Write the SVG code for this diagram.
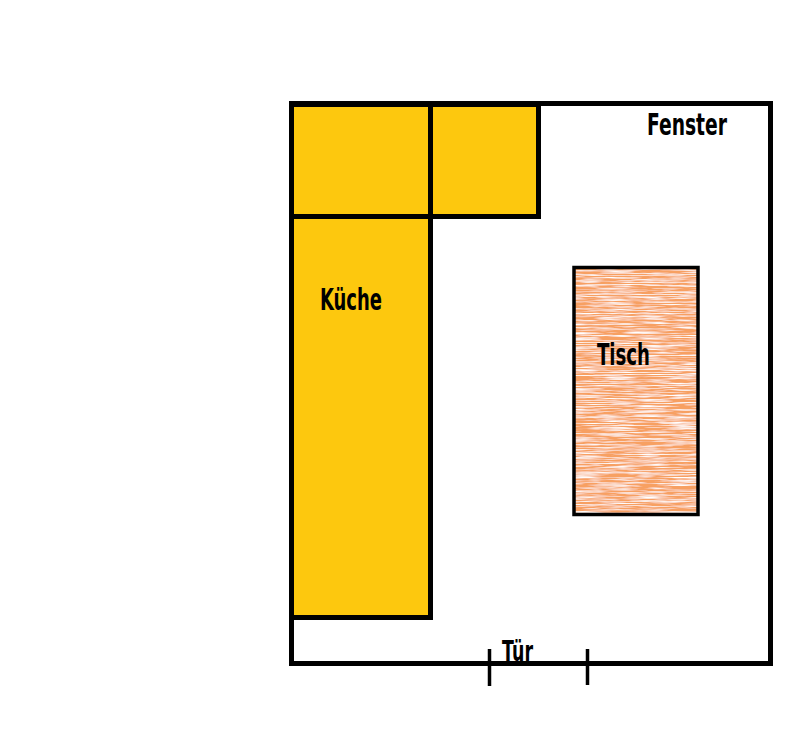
<svg xmlns="http://www.w3.org/2000/svg" width="810" height="736" viewBox="0 0 810 736">
<style>
.wall{fill:none;stroke:#000;stroke-width:5}
.unit{fill:#FDC80E;stroke:#000;stroke-width:5}
.lbl{font-family:"DejaVu Sans Condensed","Liberation Sans",sans-serif;font-weight:bold;fill:#000}
</style>
<defs>
<filter id="grain" x="0" y="0" width="100%" height="100%">
<feTurbulence type="fractalNoise" baseFrequency="0.03 0.9" numOctaves="3" seed="7" result="n"/>
<feColorMatrix in="n" type="matrix" values="0 0 0 0 1  0 0 0 0 1  0 0 0 0 1  0 0 0 2.4 -0.95" result="w"/>
<feComposite in="w" in2="SourceGraphic" operator="atop"/>
</filter>
</defs>
<rect width="810" height="736" fill="#fff"/>
<g id="room">
<rect class="wall" x="291.5" y="103.5" width="479" height="560"/>
</g>
<g id="kueche">
<rect class="unit" x="291.5" y="104.5" width="139" height="112"/>
<rect class="unit" x="430.5" y="104.5" width="108" height="112"/>
<rect class="unit" x="291.5" y="216.5" width="139" height="401"/>
<text class="lbl" x="320" y="309.5" font-size="30" textLength="62" lengthAdjust="spacingAndGlyphs">Küche</text>
</g>
<g id="tisch">
<rect x="574" y="267.5" width="124" height="247" fill="#F7A062" filter="url(#grain)"/>
<rect x="574" y="267.5" width="124" height="247" fill="none" stroke="#000" stroke-width="3.5"/>
<text class="lbl" x="597" y="365" font-size="30" textLength="53" lengthAdjust="spacingAndGlyphs">Tisch</text>
</g>
<g id="fenster">
<text class="lbl" x="647" y="135" font-size="30" textLength="80" lengthAdjust="spacingAndGlyphs">Fenster</text>
</g>
<g id="connectors">
<line x1="489.5" y1="649" x2="489.5" y2="686" stroke="#000" stroke-width="3.5"/>
<line x1="587.5" y1="649" x2="587.5" y2="685" stroke="#000" stroke-width="3.5"/>
</g>
<g id="tuer">
<text class="lbl" x="502" y="661" font-size="28" textLength="31" lengthAdjust="spacingAndGlyphs">Tür</text>
</g>
</svg>
